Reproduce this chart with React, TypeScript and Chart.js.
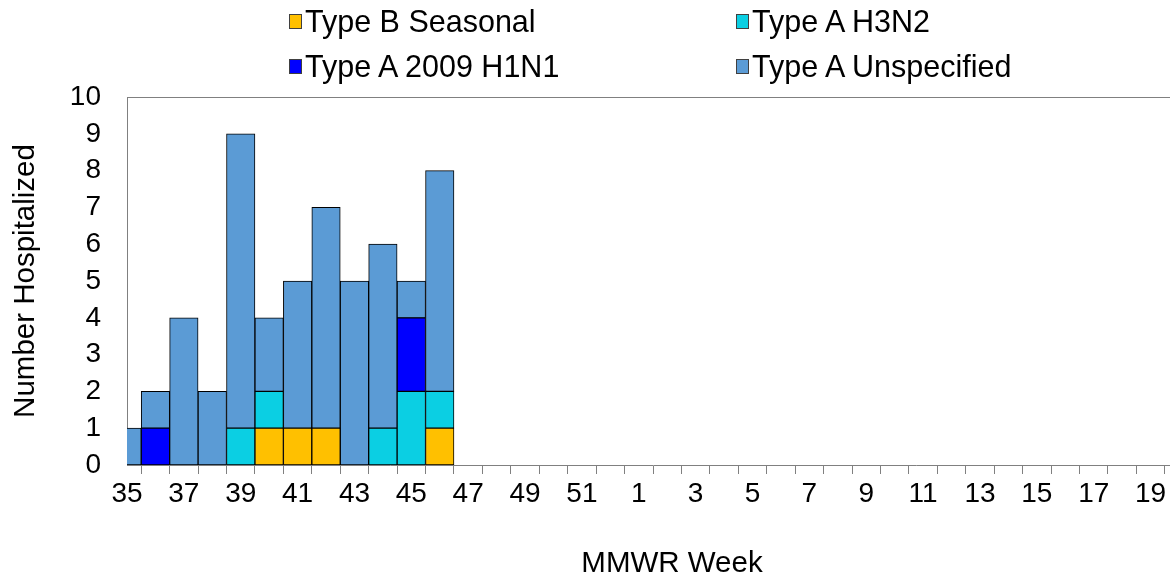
import React, { useEffect, useRef } from "react";
import { Chart, registerables } from "chart.js";

Chart.register(...registerables);

const weeks: string[] = [
  "35", "36", "37", "38", "39", "40", "41", "42", "43", "44", "45", "46", "47", "48", "49", "50", "51", "52",
  "1", "2", "3", "4", "5", "6", "7", "8", "9", "10", "11", "12", "13", "14", "15", "16", "17", "18", "19", "20",
];

const typeBSeasonal: number[] = [0, 0, 0, 0, 0, 1, 1, 1, 0, 0, 0, 1];
const typeAH3N2: number[] = [0, 0, 0, 0, 1, 1, 0, 0, 0, 1, 2, 1];
const typeA2009H1N1: number[] = [0, 1, 0, 0, 0, 0, 0, 0, 0, 0, 2, 0];
const typeAUnspecified: number[] = [1, 1, 4, 2, 8, 2, 4, 6, 5, 5, 1, 6];

const seriesNames: string[] = ["Type B Seasonal", "Type A H3N2", "Type A 2009 H1N1", "Type A Unspecified"];
const seriesColors: string[] = ["#FFC000", "#0BCFE3", "#0000FF", "#5B9BD5"];

const xTitle = "MMWR Week";
const yTitle = "Number Hospitalized";

const FONT = "'Liberation Sans', Arial, sans-serif";

const pad = (arr: number[]) => weeks.map((_, i) => (i < arr.length ? arr[i] : 0));

const frame = {
  id: "frame",
  afterDatasetsDraw(chart: any) {
    const { ctx, chartArea } = chart;
    ctx.save();
    ctx.strokeStyle = "#808080";
    ctx.lineWidth = 1;
    ctx.beginPath();
    ctx.moveTo(chartArea.left, chartArea.top + 0.5);
    ctx.lineTo(chartArea.right, chartArea.top + 0.5);
    ctx.stroke();
    ctx.restore();
  },
};

export default function App() {
  const ref = useRef<HTMLCanvasElement>(null);

  useEffect(() => {
    if (!ref.current) return;
    const allSeries = [typeBSeasonal, typeAH3N2, typeA2009H1N1, typeAUnspecified];
    const chart = new Chart(ref.current, {
      type: "bar",
      data: {
        labels: weeks,
        datasets: allSeries.map((s, k) => ({
          label: seriesNames[k],
          data: pad(s),
          backgroundColor: seriesColors[k],
          borderColor: "#000000",
          borderWidth: 1,
          borderSkipped: false,
          categoryPercentage: 1,
          barPercentage: 1,
        })),
      },
      options: {
        responsive: false,
        animation: false,
        layout: { padding: { top: 97, left: 0, right: 0, bottom: 0 } },
        plugins: { legend: { display: false }, tooltip: { enabled: false }, title: { display: false } },
        scales: {
          x: {
            type: "category",
            stacked: true,
            offset: false,
            grid: { display: true, drawOnChartArea: false, drawTicks: true, tickLength: 9, color: "#808080" },
            border: { display: true, color: "#808080" },
            ticks: {
              autoSkip: false,
              maxRotation: 0,
              minRotation: 0,
              padding: 3,
              color: "#000000",
              font: { family: FONT, size: 28 },
              callback: (_v: any, i: number) => (i % 2 === 0 ? weeks[i] : ""),
            },
            title: { display: false },
            afterFit: (scale: any) => {
              scale.height = 108;
            },
          },
          y: {
            stacked: true,
            min: 0,
            max: 10,
            grid: { display: false },
            border: { display: true, color: "#808080" },
            ticks: {
              stepSize: 1,
              padding: 18,
              color: "#000000",
              font: { family: FONT, size: 28 },
            },
            title: {
              display: true,
              text: yTitle,
              color: "#000000",
              font: { family: FONT, size: 29.5, lineHeight: 1 },
              padding: { top: 11, bottom: 0 },
            },
            afterFit: (scale: any) => {
              scale.width = 127;
            },
          },
        },
      },
      plugins: [frame],
    });
    return () => chart.destroy();
  }, []);

  const legendItems = [
    { name: seriesNames[0], color: seriesColors[0], left: 289, top: 21 },
    { name: seriesNames[1], color: seriesColors[1], left: 736, top: 21 },
    { name: seriesNames[2], color: seriesColors[2], left: 289, top: 66 },
    { name: seriesNames[3], color: seriesColors[3], left: 736, top: 66 },
  ];

  return (
    <div style={{ position: "absolute", left: 0, top: 0, width: 1170, height: 573, overflow: "hidden", background: "#fff" }}>
      <canvas ref={ref} width={1182} height={573} style={{ width: 1182, height: 573, display: "block" }} />
      {legendItems.map((it) => (
        <div
          key={it.name}
          style={{
            position: "absolute",
            left: it.left,
            top: it.top,
            transform: "translateY(-50%)",
            display: "flex",
            alignItems: "center",
            fontFamily: FONT,
            fontSize: 30.5,
            lineHeight: "32px",
            color: "#000",
            whiteSpace: "nowrap",
          }}
        >
          <span
            style={{
              display: "inline-block",
              width: 11,
              height: 13,
              background: it.color,
              border: "1px solid #404040",
              marginRight: 3,
            }}
          />
          <span>{it.name}</span>
        </div>
      ))}
      <div
        style={{
          position: "absolute",
          left: 672,
          top: 562,
          transform: "translate(-50%, -50%)",
          fontFamily: FONT,
          fontSize: 29.5,
          lineHeight: "30px",
          color: "#000",
          whiteSpace: "nowrap",
        }}
      >
        {xTitle}
      </div>
    </div>
  );
}
